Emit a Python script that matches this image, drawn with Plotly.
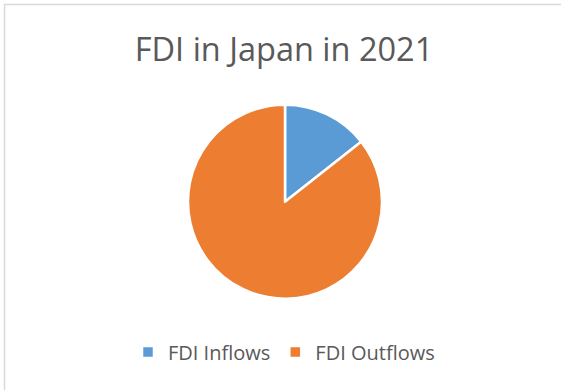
import plotly.graph_objects as go

# Japan foreign direct investment, 2021 (USD billions)
flow_labels = ["FDI Inflows", "FDI Outflows"]
flow_values = [24.65, 146.78]
slice_colors = ["#5B9BD5", "#ED7D31"]

W, H = 561, 390
text_color = "#595959"

fig = go.Figure(
    go.Pie(
        labels=flow_labels,
        values=flow_values,
        marker=dict(colors=slice_colors, line=dict(color="white", width=2.5)),
        sort=False,
        direction="clockwise",
        rotation=0,
        textinfo="none",
        hoverinfo="label+value+percent",
        domain=dict(x=[188 / W, 382 / W], y=[1 - 298.7 / H, 1 - 104.7 / H]),
    )
)

fig.update_layout(
    width=W,
    height=H,
    margin=dict(l=0, r=0, t=0, b=0),
    paper_bgcolor="white",
    plot_bgcolor="white",
    font=dict(family="Open Sans", color=text_color),
    title=dict(
        text="FDI in Japan in 2021",
        x=284 / W,
        xanchor="center",
        y=1 - 50 / H,
        yanchor="middle",
        font=dict(family="Open Sans", size=32.5, color=text_color),
    ),
    showlegend=True,
    legend=dict(
        orientation="h",
        x=284 / W,
        xanchor="center",
        y=1 - 352 / H,
        yanchor="middle",
        font=dict(family="Open Sans", size=20, color=text_color),
        bgcolor="rgba(0,0,0,0)",
    ),
    shapes=[
        # chart-area frame (top and left edges visible)
        dict(
            type="rect",
            xref="paper",
            yref="paper",
            x0=4.5 / W,
            x1=1.02,
            y0=-0.02,
            y1=1 - 4.5 / H,
            line=dict(color="#D9D9D9", width=1.5),
            fillcolor="rgba(0,0,0,0)",
            layer="below",
        )
    ],
)

fig.write_html("out.html")
